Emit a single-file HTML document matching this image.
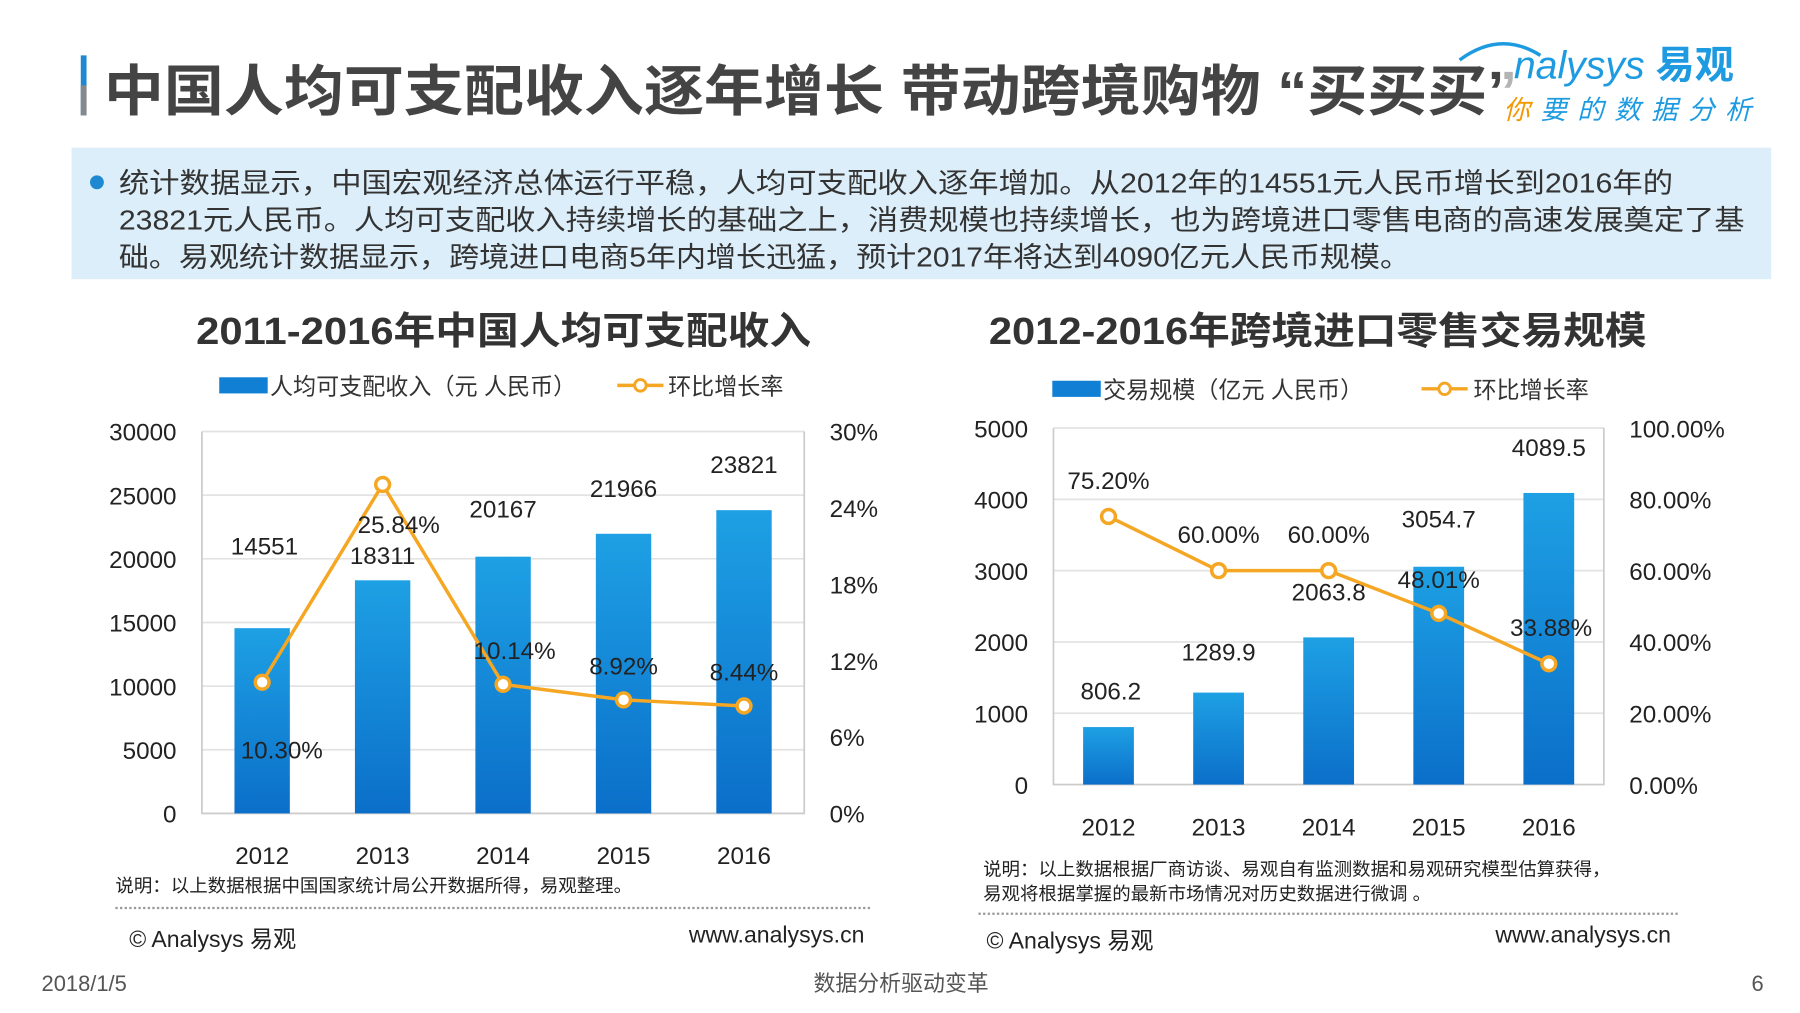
<!DOCTYPE html>
<html><head><meta charset="utf-8"><style>
html,body{margin:0;padding:0;background:#fff;width:1800px;height:1013px;overflow:hidden}
svg{display:block}
text{font-family:"Liberation Sans","Noto Sans CJK SC",sans-serif}
</style></head><body>
<svg id="s" width="1800" height="1013" viewBox="0 0 1560 878" preserveAspectRatio="none">
<rect x="70" y="48" width="5" height="52" fill="#1e88d0"/>
<rect x="70" y="74" width="5" height="26" fill="#888"/>
<text x="90" y="96" font-size="48" font-weight="bold" fill="#444" textLength="1225" lengthAdjust="spacingAndGlyphs">中国人均可支配收入逐年增长 带动跨境购物 “买买买”</text>
<g>
<rect x="1300" y="30" width="225" height="80" fill="#fff" opacity="0.6"/>
<text x="1312" y="68" font-size="34" font-style="italic" fill="#1e9be0">nalysys <tspan font-style="normal" font-weight="bold">易观</tspan></text>
<path d="M1265,52 q35,-26 70,-4" stroke="#1e9be0" stroke-width="3" fill="none"/>
<text x="1303" y="103" font-size="23" font-style="italic" fill="#1e9be0" textLength="215"><tspan fill="#f39800">你</tspan>要的数据分析</text>
</g>
<rect x="62" y="128" width="1473" height="114" fill="#dceef9"/>
<circle cx="84" cy="158" r="6" fill="#1e88d0"/>
<g font-size="24" fill="#333">
<text x="103" y="167" textLength="1347" lengthAdjust="spacingAndGlyphs">统计数据显示，中国宏观经济总体运行平稳，人均可支配收入逐年增加。从2012年的14551元人民币增长到2016年的</text>
<text x="103" y="199" textLength="1409" lengthAdjust="spacingAndGlyphs">23821元人民币。人均可支配收入持续增长的基础之上，消费规模也持续增长，也为跨境进口零售电商的高速发展奠定了基</text>
<text x="103" y="231" textLength="1119" lengthAdjust="spacingAndGlyphs">础。易观统计数据显示，跨境进口电商5年内增长迅猛，预计2017年将达到4090亿元人民币规模。</text>
</g>
<defs><linearGradient id="bg" x1="0" y1="0" x2="0" y2="1"><stop offset="0" stop-color="#1ea0e4"/><stop offset="1" stop-color="#0b6fc9"/></linearGradient></defs>
<text x="170" y="298" font-size="33" font-weight="bold" fill="#333" textLength="533" lengthAdjust="spacingAndGlyphs">2011-2016年中国人均可支配收入</text>
<text x="857" y="298" font-size="33" font-weight="bold" fill="#333" textLength="570" lengthAdjust="spacingAndGlyphs">2012-2016年跨境进口零售交易规模</text>
<g>
<rect x="190" y="327" width="42" height="14" fill="#1180d4"/>
<text x="234" y="342" font-size="20" fill="#333">人均可支配收入（元 人民币）</text>
<line x1="535" y1="334" x2="575" y2="334" stroke="#f5a623" stroke-width="3"/><circle cx="555" cy="334" r="5" fill="#fff" stroke="#f5a623" stroke-width="2.5"/>
<text x="579" y="342" font-size="20" fill="#333">环比增长率</text>
</g>
<g>
<rect x="912" y="330" width="42" height="14" fill="#1180d4"/>
<text x="956" y="345" font-size="20" fill="#333">交易规模（亿元 人民币）</text>
<line x1="1232" y1="337" x2="1272" y2="337" stroke="#f5a623" stroke-width="3"/><circle cx="1252" cy="337" r="5" fill="#fff" stroke="#f5a623" stroke-width="2.5"/>
<text x="1277" y="345" font-size="20" fill="#333">环比增长率</text>
</g>
<g id="c1"></g><g id="c2"></g>
<g font-size="16" fill="#222">
<text x="100" y="773">说明：以上数据根据中国国家统计局公开数据所得，易观整理。</text>
<text x="852" y="759">说明：以上数据根据厂商访谈、易观自有监测数据和易观研究模型估算获得，</text>
<text x="852" y="780">易观将根据掌握的最新市场情况对历史数据进行微调 。</text>
</g>
<line x1="100" y1="787" x2="755" y2="787" stroke="#999" stroke-width="2" stroke-dasharray="2,2"/>
<line x1="848" y1="792" x2="1455" y2="792" stroke="#999" stroke-width="2" stroke-dasharray="2,2"/>
<g font-size="20" fill="#222">
<text x="112" y="821">© Analysys 易观</text>
<text x="597" y="817">www.analysys.cn</text>
<text x="855" y="822">© Analysys 易观</text>
<text x="1296" y="817">www.analysys.cn</text>
</g>
<g font-size="19" fill="#555">
<text x="36" y="859">2018/1/5</text>
<text x="705" y="859">数据分析驱动变革</text>
<text x="1518" y="859">6</text>
</g>
</svg>
<script>
const years1=["2012","2013","2014","2015","2016"];
const income=[14551,18311,20167,21966,23821];
const incomeRate=[10.30,25.84,10.14,8.92,8.44];
const leftTicks=[0,5000,10000,15000,20000,25000,30000];
const leftRTicks=["0%","6%","12%","18%","24%","30%"];
const years2=["2012","2013","2014","2015","2016"];
const trade=[806.2,1289.9,2063.8,3054.7,4089.5];
const tradeRate=[75.20,60.00,60.00,48.01,33.88];
const rightTicks=[0,1000,2000,3000,4000,5000];
const rightRTicks=["0.00%","20.00%","40.00%","60.00%","80.00%","100.00%"];
const NS="http://www.w3.org/2000/svg";
function mk(p,t,a,txt){const e=document.createElementNS(NS,t);for(const k in a)e.setAttribute(k,a[k]);if(txt!==undefined)e.textContent=txt;p.appendChild(e);return e;}
function chart(g,o){
 const yv=v=>o.y0-(v/o.ymax)*(o.y0-o.y1);
 const yr=v=>o.y0-(v/o.rmax)*(o.y0-o.y1);
 const bw=(o.x1-o.x0)/o.cats.length;
 const xc=i=>o.x0+bw*(i+0.5);
 o.ticks.forEach(t=>{const y=yv(t);
  const l=mk(g,'line',{x1:o.x0,x2:o.x1,y1:y,y2:y,stroke:'#e3e3e3','stroke-width':1.5});
  
  const tx=mk(g,'text',{x:o.x0-22,y:y+8,'font-size':21,fill:'#222','text-anchor':'end'},String(t));
  });
 o.rticks.forEach((t,i)=>{const y=o.y0-i/(o.rticks.length-1)*(o.y0-o.y1);
  const tx=mk(g,'text',{x:o.x1+22,y:y+8,'font-size':21,fill:'#222'},t);
  });
 const ax=mk(g,'path',{d:`M${o.x0},${o.y1}V${o.y0}H${o.x1}V${o.y1}`,stroke:'#ccc','stroke-width':1.5,fill:'none'});
 
 o.vals.forEach((v,i)=>{const y=yv(v);
  const r=mk(g,'rect',{x:xc(i)-o.bwid/2,y:y,width:o.bwid,height:o.y0-y,fill:'url(#bg)'});
  
  const lb=mk(g,'text',{x:xc(i)+(o.lo[i]?o.lo[i][0]:0),y:y-14+(o.lo[i]?o.lo[i][1]:0),'font-size':21,fill:'#222','text-anchor':'middle'},String(v));
  
  const cx=mk(g,'text',{x:xc(i),y:o.y0+44,'font-size':21,fill:'#222','text-anchor':'middle'},o.cats[i]);
  });
 const pts=o.rates.map((v,i)=>xc(i)+','+yr(v)).join(' ');
 const pl=mk(g,'polyline',{points:pts,fill:'none',stroke:'#f5a623','stroke-width':3});
 
 o.rates.forEach((v,i)=>{const c=mk(g,'circle',{cx:xc(i),cy:yr(v),r:6,fill:'#fff',stroke:'#f5a623','stroke-width':3});
  
  const lb=mk(g,'text',{x:xc(i)+o.ro[i][0],y:yr(v)+o.ro[i][1],'font-size':21,fill:'#222','text-anchor':'middle'},v.toFixed(2)+'%');
  });
}
chart(document.getElementById('c1'),{x0:175,x1:697,y0:705,y1:374,ymax:30000,rmax:30,bwid:48,cats:years1,vals:income,rates:incomeRate,ticks:leftTicks,rticks:leftRTicks,
 lo:[[2,-50],[0,0],[0,-20],[0,-18],[0,-18]],ro:[[17,66],[14,42],[10,-22],[0,-22],[0,-22]]});
chart(document.getElementById('c2'),{x0:913,x1:1390,y0:680,y1:371,ymax:5000,rmax:100,bwid:44,cats:years2,vals:trade,rates:tradeRate,ticks:rightTicks,rticks:rightRTicks,
 lo:[[2,-10],[0,-14],[0,-18],[0,-20],[0,-18]],ro:[[0,-24],[0,-24],[0,-24],[0,-22],[2,-24]]});
</script>
</body></html>
